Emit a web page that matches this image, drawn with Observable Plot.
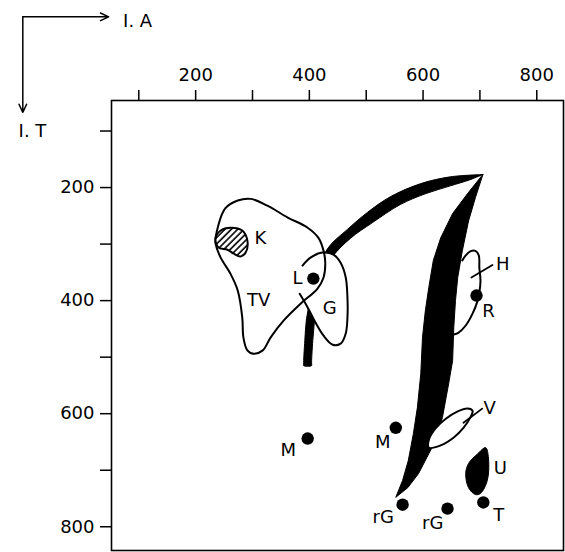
<!DOCTYPE html>
<html><head><meta charset="utf-8">
<script src="https://cdn.jsdelivr.net/npm/d3@7"></script>
<script src="https://cdn.jsdelivr.net/npm/@observablehq/plot@0.6"></script>
<style>
html,body{margin:0;padding:0;background:#fff;}
</style>
</head><body><div id="chart"></div>
<script>
// Axis ticks and ranges (I.A across the top, I.T downward)
const xTicks = [100, 200, 300, 400, 500, 600, 700, 800];
const yTicks = [100, 200, 300, 400, 500, 600, 700, 800];
const labeledTicks = [200, 400, 600, 800];
const xDomain = [52, 847];
const yDomain = [46, 842];

// Regions, as [I.A, I.T] pairs
const upperBand = [[705,177],[648,181],[596,193],[543,216],[502,244],[467,274],[432,308],[413,356],[402,397],[395,432],[392,471],[390,506],[390,512],[390,515],[404,515],[404,512],[404,506],[406,471],[409,435],[413,397],[423,356],[441,322],[472,290],[511,262],[560,230],[604,211],[648,197],[683,186],[705,177]];
const sickle = [[705,177],[678,211],[652,246],[631,289],[618,329],[610,377],[604,418],[599,465],[596,529],[590,589],[583,635],[574,683],[564,718],[552,748],[573,731],[592,706],[610,671],[622,648],[634,607],[645,547],[652,506],[654,448],[657,400],[661,359],[669,312],[680,259],[692,218]];
const tvOutline = [[235,289],[252,237],[274,223],[297,220],[326,232],[362,253],[397,271],[416,289],[425,312],[428,333],[425,359],[414,379],[385,405],[355,435],[332,465],[318,488],[302,494],[291,488],[284,465],[282,430],[274,382],[261,352],[244,324],[235,299]];
const gOutline = [[388,338],[402,324],[423,315],[443,319],[455,333],[464,359],[467,395],[467,430],[464,458],[455,476],[441,478],[425,462],[411,439],[397,412],[383,388]];
const kHatch = [[235,290],[244,276],[261,271],[282,276],[291,294],[288,315],[279,322],[267,317],[256,310],[240,306]];
const hLoop = [[669,329],[675,320],[683,313],[692,312],[698,320],[699,342],[701,365],[699,386],[696,400],[687,423],[675,444],[662,457],[654,460]];
const hTick = [[685,359],[722,337]];
const vLoop = [[610,660],[631,656],[654,642],[671,625],[683,607],[687,595],[678,591],[661,596],[640,609],[622,626],[611,644]];
const vTick = [[671,616],[704,591]];
const uBlob = [[710,660],[715,678],[713,718],[701,741],[692,743],[680,731],[675,706],[680,688],[696,671]];

// Point features
const dots = [
  {name: "L", x: 407, y: 361},
  {name: "R", x: 694, y: 391},
  {name: "M", x: 397, y: 644},
  {name: "M", x: 552, y: 625},
  {name: "rG", x: 564, y: 761},
  {name: "rG", x: 643, y: 768},
  {name: "T", x: 706, y: 757}
];

// Text labels
const labels = [
  {text: "K", x: 314, y: 289},
  {text: "TV", x: 311, y: 400},
  {text: "L", x: 379, y: 361},
  {text: "G", x: 436, y: 414},
  {text: "H", x: 740, y: 335},
  {text: "R", x: 715, y: 418},
  {text: "V", x: 717, y: 591},
  {text: "M", x: 363, y: 665},
  {text: "M", x: 529, y: 651},
  {text: "U", x: 736, y: 697},
  {text: "T", x: 733, y: 780},
  {text: "rG", x: 530, y: 784},
  {text: "rG", x: 617, y: 794}
];

// Axis-direction indicator
const directionArrows = [
  {x1: -104, y1: -102, x2: 47, y2: -102},
  {x1: -104, y1: -102, x2: -104, y2: 67}
];
const directionLabels = [
  {text: "I. A", x: 98, y: -94},
  {text: "I. T", x: -87, y: 101}
];

const hatchDefs = () => {
  const defs = d3.create("svg:defs");
  const p = defs.append("pattern")
    .attr("id", "hatch")
    .attr("patternUnits", "userSpaceOnUse")
    .attr("width", 4.5).attr("height", 4.5)
    .attr("patternTransform", "rotate(45)");
  p.append("rect").attr("width", 4.5).attr("height", 4.5).attr("fill", "white");
  p.append("line").attr("x1", 1).attr("y1", 0).attr("x2", 1).attr("y2", 4.5)
    .attr("stroke", "black").attr("stroke-width", 1.6);
  return defs.node();
};

const fmt = d => labeledTicks.includes(d) ? String(d) : "";

const chart = Plot.plot({
  width: 565,
  height: 552,
  marginLeft: 111,
  marginRight: 2,
  marginTop: 100,
  marginBottom: 2,
  style: {fontFamily: "DejaVu Sans", fontSize: "18px", background: "white", color: "black"},
  x: {domain: xDomain},
  y: {domain: yDomain, reverse: true},
  marks: [
    hatchDefs,
    Plot.frame({stroke: "black", strokeWidth: 1.6}),
    Plot.axisX(xTicks, {anchor: "top", tickSize: 11, tickPadding: 9, tickFormat: fmt, fontSize: 18, strokeWidth: 1.5, label: null}),
    Plot.axisY(yTicks, {anchor: "left", tickSize: 11, tickPadding: 6, tickFormat: fmt, fontSize: 18, strokeWidth: 1.5, label: null}),
    Plot.line(upperBand, {curve: "catmull-rom", fill: "black", stroke: "black", strokeWidth: 1}),
    Plot.line(tvOutline, {curve: "catmull-rom-closed", fill: "white", stroke: "none"}),
    Plot.line(gOutline, {curve: "catmull-rom-closed", fill: "white", stroke: "none"}),
    Plot.line(tvOutline, {curve: "catmull-rom-closed", stroke: "black", strokeWidth: 2}),
    Plot.line(gOutline, {curve: "catmull-rom", stroke: "black", strokeWidth: 2}),
    Plot.line(kHatch, {curve: "catmull-rom-closed", fill: "url(#hatch)", stroke: "black", strokeWidth: 2}),
    Plot.line(sickle, {curve: "linear-closed", fill: "black", stroke: "black", strokeWidth: 1}),
    Plot.line(hLoop, {curve: "catmull-rom", stroke: "black", strokeWidth: 2}),
    Plot.line(hTick, {stroke: "black", strokeWidth: 1.8}),
    Plot.line(vLoop, {curve: "catmull-rom-closed", fill: "white", stroke: "black", strokeWidth: 2}),
    Plot.line(vTick, {stroke: "black", strokeWidth: 1.8}),
    Plot.line(uBlob, {curve: "catmull-rom-closed", fill: "black", stroke: "black", strokeWidth: 1}),
    Plot.dot(dots, {x: "x", y: "y", r: 6.2, fill: "black", stroke: "none"}),
    Plot.text(labels, {x: "x", y: "y", text: "text", fontSize: 18, fill: "black"}),
    Plot.arrow(directionArrows, {x1: "x1", y1: "y1", x2: "x2", y2: "y2", stroke: "black", strokeWidth: 1.5, headLength: 9, headAngle: 50}),
    Plot.text(directionLabels, {x: "x", y: "y", text: "text", fontSize: 18, fill: "black"})
  ]
});
document.getElementById("chart").appendChild(chart);
</script>
</body></html>
